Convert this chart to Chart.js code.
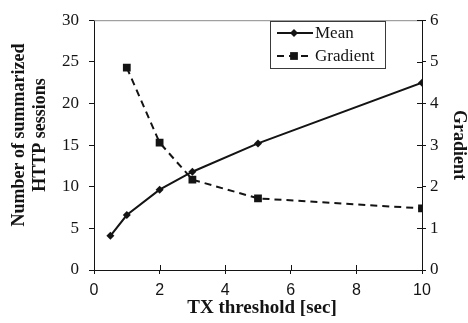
<!DOCTYPE html>
<html>
<head>
<meta charset="utf-8">
<script src="https://cdn.jsdelivr.net/npm/chart.js@4/dist/chart.umd.min.js"></script>
<style>
  html, body { margin: 0; padding: 0; background: #fff; }
  #wrap { width: 468px; height: 323px; }
</style>
</head>
<body>
<div id="wrap"><canvas id="txChart" width="468" height="323"></canvas></div>
<script>
// TX threshold [sec] for each run
const thresholds = [0.5, 1, 2, 3, 5, 10];
const meanSessions = [4.1, 6.6, 9.65, 11.8, 15.2, 22.5];

// gradient is only defined from the second threshold on
const gradientThresholds = [1, 2, 3, 5, 10];
const gradientValues = [4.86, 3.06, 2.17, 1.72, 1.48];

const leftTicks = [0, 5, 10, 15, 20, 25, 30];
const rightTicks = [0, 1, 2, 3, 4, 5, 6];
const xTicks = [0, 2, 4, 6, 8, 10];

const ink = '#141414';
const serif = "'Liberation Serif', 'Times New Roman', serif";
const sans = "'Liberation Sans', Arial, sans-serif";

const toPoints = (xs, ys) => xs.map((x, i) => ({ x: x, y: ys[i] }));

// ticks that cross into the plot, the grey top edge, titles and the boxed legend
const decorations = {
  id: 'decorations',
  afterDraw(chart) {
    const ctx = chart.ctx;
    const area = chart.chartArea;
    const xs = chart.scales.x;
    const yr = chart.scales.y1;
    const midY = (area.top + area.bottom) / 2;
    ctx.save();

    ctx.strokeStyle = '#8a8a8a';
    ctx.lineWidth = 1;
    ctx.beginPath();
    ctx.moveTo(area.left, area.top + 0.5);
    ctx.lineTo(area.right, area.top + 0.5);
    ctx.stroke();

    ctx.strokeStyle = ink;
    ctx.beginPath();
    xTicks.forEach(v => {
      const px = Math.round(xs.getPixelForValue(v)) + 0.5;
      ctx.moveTo(px, area.bottom);
      ctx.lineTo(px, area.bottom - 5);
    });
    rightTicks.forEach(v => {
      const py = Math.round(yr.getPixelForValue(v)) + 0.5;
      ctx.moveTo(area.right, py);
      ctx.lineTo(area.right - 5, py);
    });
    ctx.stroke();

    // axis titles
    ctx.fillStyle = ink;
    ctx.textAlign = 'center';
    ctx.textBaseline = 'middle';
    ctx.font = 'bold 19px ' + serif;
    ctx.fillText('TX threshold [sec]', (area.left + area.right) / 2 + 4, 308);

    ctx.font = 'bold 18px ' + serif;
    ctx.save();
    ctx.translate(19, 135);
    ctx.rotate(-Math.PI / 2);
    ctx.fillText('Number of summarized', 0, 0);
    ctx.fillText('HTTP sessions', 0, 21);
    ctx.restore();

    ctx.save();
    ctx.translate(459, midY);
    ctx.rotate(Math.PI / 2);
    ctx.fillText('Gradient', 0, 0);
    ctx.restore();

    // legend
    const box = { x: 270, y: 21, w: 115, h: 47 };
    ctx.fillStyle = '#fff';
    ctx.fillRect(box.x, box.y, box.w, box.h);
    ctx.strokeStyle = '#3a3a3a';
    ctx.strokeRect(box.x + 0.5, box.y + 0.5, box.w, box.h);

    ctx.font = '17px ' + serif;
    ctx.textAlign = 'left';
    chart.data.datasets.forEach((ds, i) => {
      const rowY = box.y + 12 + i * 23;
      ctx.strokeStyle = ds.borderColor;
      ctx.lineWidth = ds.borderWidth;
      ctx.setLineDash(ds.borderDash || []);
      ctx.beginPath();
      ctx.moveTo(box.x + 7, rowY);
      ctx.lineTo(box.x + (ds.borderDash ? 38 : 43), rowY);
      ctx.stroke();
      ctx.setLineDash([]);
      ctx.fillStyle = ds.pointBackgroundColor;
      Chart.helpers.drawPoint(ctx, {
        pointStyle: ds.pointStyle,
        radius: ds.pointRadius,
        rotation: 0,
        borderWidth: 0
      }, box.x + 24, rowY);
      ctx.fillStyle = ink;
      ctx.fillText(ds.label, box.x + 45, rowY + 1);
    });

    ctx.restore();
  }
};

new Chart(document.getElementById('txChart'), {
  type: 'line',
  data: {
    datasets: [
      {
        label: 'Mean',
        data: toPoints(thresholds, meanSessions),
        yAxisID: 'y',
        borderColor: ink,
        borderWidth: 2,
        pointStyle: 'rectRot',
        pointRadius: 4,
        pointBackgroundColor: ink,
        pointBorderWidth: 0
      },
      {
        label: 'Gradient',
        data: toPoints(gradientThresholds, gradientValues),
        yAxisID: 'y1',
        borderColor: ink,
        borderWidth: 2,
        borderDash: [7, 5],
        pointStyle: 'rect',
        pointRadius: 5.5,
        pointBackgroundColor: ink,
        pointBorderWidth: 0
      }
    ]
  },
  options: {
    responsive: false,
    animation: false,
    layout: { padding: { top: 16, left: 0, right: 0, bottom: 0 } },
    plugins: {
      legend: { display: false },
      tooltip: { enabled: false }
    },
    scales: {
      x: {
        type: 'linear',
        min: 0,
        max: 10,
        afterFit(scale) { scale.height = 53; },
        afterBuildTicks(scale) { scale.ticks = xTicks.map(v => ({ value: v })); },
        border: { display: true, color: ink, width: 1 },
        grid: { drawOnChartArea: false, tickLength: 4, color: ink },
        ticks: { color: ink, padding: 7, maxRotation: 0, font: { family: sans, size: 16 } }
      },
      y: {
        position: 'left',
        min: 0,
        max: 30,
        afterFit(scale) { scale.width = 94; },
        afterBuildTicks(scale) { scale.ticks = leftTicks.map(v => ({ value: v })); },
        border: { display: true, color: ink, width: 1 },
        grid: { drawOnChartArea: false, tickLength: 5, color: ink },
        ticks: { color: ink, padding: 10, font: { family: serif, size: 17 } }
      },
      y1: {
        position: 'right',
        min: 0,
        max: 6,
        afterFit(scale) { scale.width = 46; },
        afterBuildTicks(scale) { scale.ticks = rightTicks.map(v => ({ value: v })); },
        border: { display: true, color: ink, width: 1 },
        grid: { drawOnChartArea: false, tickLength: 4, color: ink },
        ticks: { color: ink, padding: 4, font: { family: serif, size: 17 } }
      }
    }
  },
  plugins: [decorations]
});
</script>
</body>
</html>
